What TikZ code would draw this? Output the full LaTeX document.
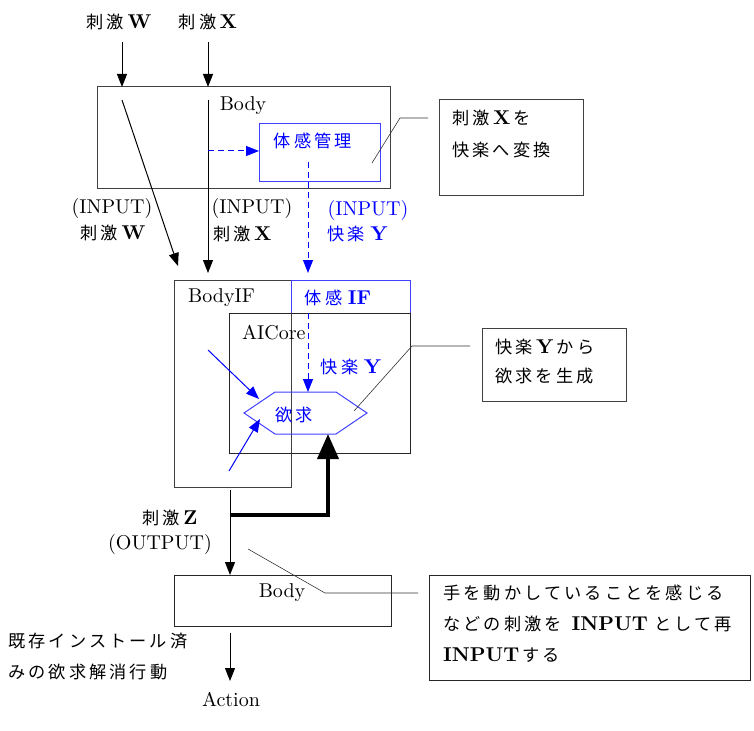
\documentclass[tikz,border=0pt]{standalone}
\usepackage{fontspec}
\setmainfont{lmroman10}[Extension=.otf,UprightFont=*-regular,BoldFont=*-bold]
\newfontfamily\cjk[Scale=0.86,LetterSpace=18]{Noto Sans CJK JP}
\usetikzlibrary{arrows.meta}
\begin{document}
\begin{tikzpicture}[x=1pt,y=-1pt,
  txt/.style={inner sep=0pt,font=\fontsize{20}{24}\selectfont},
  ltxt/.style={txt,anchor=west},
  gbox/.style={draw=black!75,line width=1pt},
  bbox/.style={draw=blue!75,line width=1pt},
  arr/.style={line width=1pt,-{Triangle[width=10pt,length=13pt]}},
  barr/.style={arr,blue},
  dbarr/.style={barr,dash pattern=on 6pt off 4pt},
  lead/.style={draw=black!80,line width=0.6pt},
  thick arr/.style={line width=4pt,-{Triangle[width=21pt,length=25pt]}}
]
\useasboundingbox (0,0) rectangle (754,730);

% top labels
\node[txt] (sw) at (119,22) {{\cjk 刺激}\,\textbf{W}};
\node[txt] (sx) at (208,22) {{\cjk 刺激}\,\textbf{X}};

% Body 1
\draw[gbox] (97,87) rectangle (390,188);
\coordinate (b1w) at (122,87);
\coordinate (b1x) at (208,87);
\node[txt] (body1) at (243,106) {Body};
\draw[bbox] (259,124) rectangle (380,181);
\node[txt,blue] (tk) at (313,141) {\cjk 体感管理};
\coordinate (tkw) at (259,151);
\coordinate (tkb) at (308,162);
\coordinate (xin) at (208,151);

\coordinate (w0) at (122,42);
\coordinate (x0) at (208,42);
\draw[arr] (w0) -- (b1w);
\draw[arr] (x0) -- (b1x);

\coordinate (w1) at (122,100);
\coordinate (w2) at (178,266);
\coordinate (x1) at (208,100);
\coordinate (x2) at (208,273);
\coordinate (y2) at (308,273);
\draw[arr] (w1) -- (w2);
\draw[arr] (x1) -- (x2);
\draw[dbarr] (xin) -- (tkw);
\draw[dbarr] (tkb) -- (y2);

% middle labels
\node[txt] (inw) at (112,208) {(INPUT)};
\node[txt] (sw2) at (113,233) {{\cjk 刺激}\,\textbf{W}};
\node[txt] (inx) at (252,208) {(INPUT)};
\node[ltxt] (sx2) at (213,234) {{\cjk 刺激}\,\textbf{X}};
\node[txt,blue] (iny) at (368,210) {(INPUT)};
\node[ltxt,blue] (ky) at (327,234) {{\cjk 快楽}\;\textbf{Y}};

% callout 1
\draw[gbox] (439,100) rectangle (583,195);
\node[ltxt] (c1a) at (452,118) {{\cjk 刺激}\,\textbf{X}\,{\cjk を}};
\node[ltxt] (c1b) at (452,150) {\cjk 快楽へ変換};
\coordinate (l1a) at (372,163);
\coordinate (l1b) at (400,118);
\coordinate (l1c) at (428,118);
\draw[lead] (l1a) -- (l1b) -- (l1c);

% BodyIF
\draw[gbox] (174,280) rectangle (291,487);
\node[ltxt] (bif) at (188,298) {BodyIF};
\draw[bbox] (291,280) rectangle (410,313);
\node[txt,blue] (tif) at (338,298) {{\cjk 体感}\;\textbf{IF}};
\draw[draw=black!85,line width=1pt] (229,313) rectangle (410,453);
\node[ltxt] (aic) at (242,333) {AICore};
\node[txt,blue] (ky2) at (351,367) {{\cjk 快楽}\;\textbf{Y}};

% hexagon
\coordinate (h1) at (244,413);
\coordinate (h2) at (275,392);
\coordinate (h3) at (336,392);
\coordinate (h4) at (367,413);
\coordinate (h5) at (336,434);
\coordinate (h6) at (275,434);
\draw[bbox] (h1) -- (h2) -- (h3) -- (h4) -- (h5) -- (h6) -- cycle;
\node[txt,blue] (yk) at (294,415) {\cjk 欲求};

\coordinate (y3) at (308,313);
\coordinate (y4) at (308,392);
\draw[dbarr] (y3) -- (y4);

\coordinate (ba1) at (208,350);
\coordinate (ba2) at (259,399);
\coordinate (bb1) at (229,471);
\coordinate (bb2) at (260,419);
\draw[barr] (ba1) -- (ba2);
\draw[barr] (bb1) -- (bb2);

% callout 2
\coordinate (l2a) at (354,411);
\coordinate (l2b) at (412,346);
\coordinate (l2c) at (470,346);
\draw[lead] (l2a) -- (l2b) -- (l2c);
\draw[gbox] (482,328) rectangle (626,401);
\node[ltxt] (c2a) at (495,347) {{\cjk 快楽}\,\textbf{Y}\,{\cjk から}};
\node[ltxt] (c2b) at (495,376) {\cjk 欲求を生成};

% output
\coordinate (o1) at (230,490);
\coordinate (o2) at (230,575);
\coordinate (t1) at (230,515);
\coordinate (t2) at (328,515);
\coordinate (t3) at (328,434);
\draw[arr] (o1) -- (o2);
\draw[thick arr] (t1) -- (t2) -- (t3);
\node[txt] (sz) at (170,518) {{\cjk 刺激}\,\textbf{Z}};
\node[txt] (out) at (160,544) {(OUTPUT)};

% Body 2
\draw[draw=black!85,line width=1pt] (174,575) rectangle (391,626);
\node[txt] (body2) at (282,593) {Body};
\coordinate (a1) at (230,633);
\coordinate (a2) at (230,681);
\draw[arr] (a1) -- (a2);
\node[txt] (act) at (231,699) {Action};
\node[ltxt] (ex1) at (8,641) {\cjk 既存インストール済};
\node[ltxt] (ex2) at (8,672) {\cjk みの欲求解消行動};

% callout 3
\coordinate (l3a) at (248,549);
\coordinate (l3b) at (325,593);
\coordinate (l3c) at (418,593);
\draw[lead] (l3a) -- (l3b) -- (l3c);
\draw[draw=black!85,line width=1pt] (429,575) rectangle (750,680);
\node[ltxt] (c3a) at (443,593) {\cjk 手を動かしていることを感じる};
\node[ltxt] (c3b) at (443,624) {{\cjk などの刺激を} \textbf{INPUT} {\cjk として再}};
\node[ltxt] (c3c) at (443,655) {\textbf{INPUT}\,{\cjk する}};
\end{tikzpicture}
\end{document}
